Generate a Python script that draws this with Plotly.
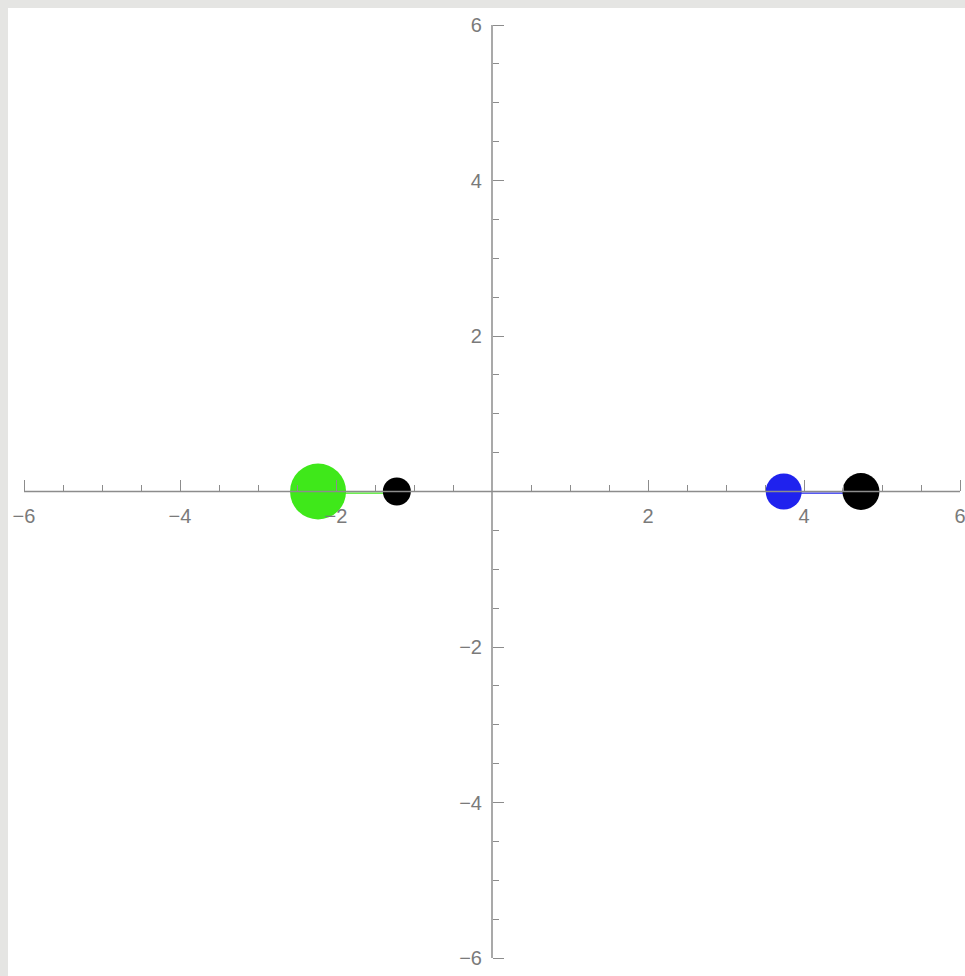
import plotly.graph_objects as go

# Bodies: positions along the x-axis, sizes and colours
body_x = [-2.23, -1.22, 3.74, 4.73]
body_y = [0.0, 0.0, 0.0, 0.0]
body_size = [56, 28, 36, 37]
body_color = ["#3fe81a", "#000000", "#1f22ee", "#000000"]

# Connecting segments (pairs of body indices) and their colours
links = [(0, 1), (2, 3)]
link_color = ["#3fe81a", "#1f22ee"]

# Axis ticks
axis_lim = 6
tick_vals = [-6, -4, -2, 2, 4, 6]
tick_text = ["\u22126", "\u22124", "\u22122", "2", "4", "6"]

x_range = [-6.2051, 6.0641]
y_range = [-6.2315, 6.2186]

fig = go.Figure()

for (a, b), c in zip(links, link_color):
    fig.add_trace(go.Scatter(
        x=[body_x[a], body_x[b]], y=[body_y[a] - 0.02, body_y[b] - 0.02],
        mode="lines", line=dict(color=c, width=1.2),
        hoverinfo="skip", showlegend=False))

fig.add_trace(go.Scatter(
    x=body_x, y=body_y, mode="markers",
    marker=dict(size=body_size, color=body_color, line=dict(width=0), opacity=1),
    showlegend=False))

axis_color = "#8c8c8c"
label_font = dict(family="Liberation Sans, Arial, sans-serif", size=20, color="#7a7a7a")

# Axis lines spanning -6..6, drawn above the markers
fig.add_shape(type="line", xref="x", yref="y", x0=-axis_lim, x1=axis_lim, y0=0, y1=0,
              line=dict(color=axis_color, width=1.5), layer="above")
fig.add_shape(type="line", xref="x", yref="y", x0=0, x1=0, y0=-axis_lim, y1=axis_lim,
              line=dict(color=axis_color, width=1.5), layer="above")

x_pos = (0 - y_range[0]) / (y_range[1] - y_range[0])
y_pos = (0 - x_range[0]) / (x_range[1] - x_range[0])

common = dict(
    showgrid=False, zeroline=False, showline=False,
    tickmode="array", tickvals=tick_vals, ticktext=tick_text,
    ticks="inside", ticklen=11, tickwidth=1.2, tickcolor=axis_color,
    tickfont=label_font, automargin=False, ticklabeloverflow="allow",
    minor=dict(tickmode="array",
               tickvals=[v / 2 for v in range(-2 * axis_lim, 2 * axis_lim + 1)
                         if v % 4 != 0],
               ticks="inside", ticklen=6, tickwidth=1.2, tickcolor=axis_color,
               showgrid=False),
)

fig.update_layout(
    width=965, height=976,
    margin=dict(l=8, r=0, t=8, b=0, pad=0),
    paper_bgcolor="#e5e5e3",
    plot_bgcolor="#ffffff",
    xaxis=dict(range=x_range, anchor="free", position=x_pos, side="bottom",
               ticklabelstandoff=11, **common),
    yaxis=dict(range=y_range, anchor="free", position=y_pos, side="left",
               ticklabelstandoff=10, **common),
)

fig.write_html("out.html")
